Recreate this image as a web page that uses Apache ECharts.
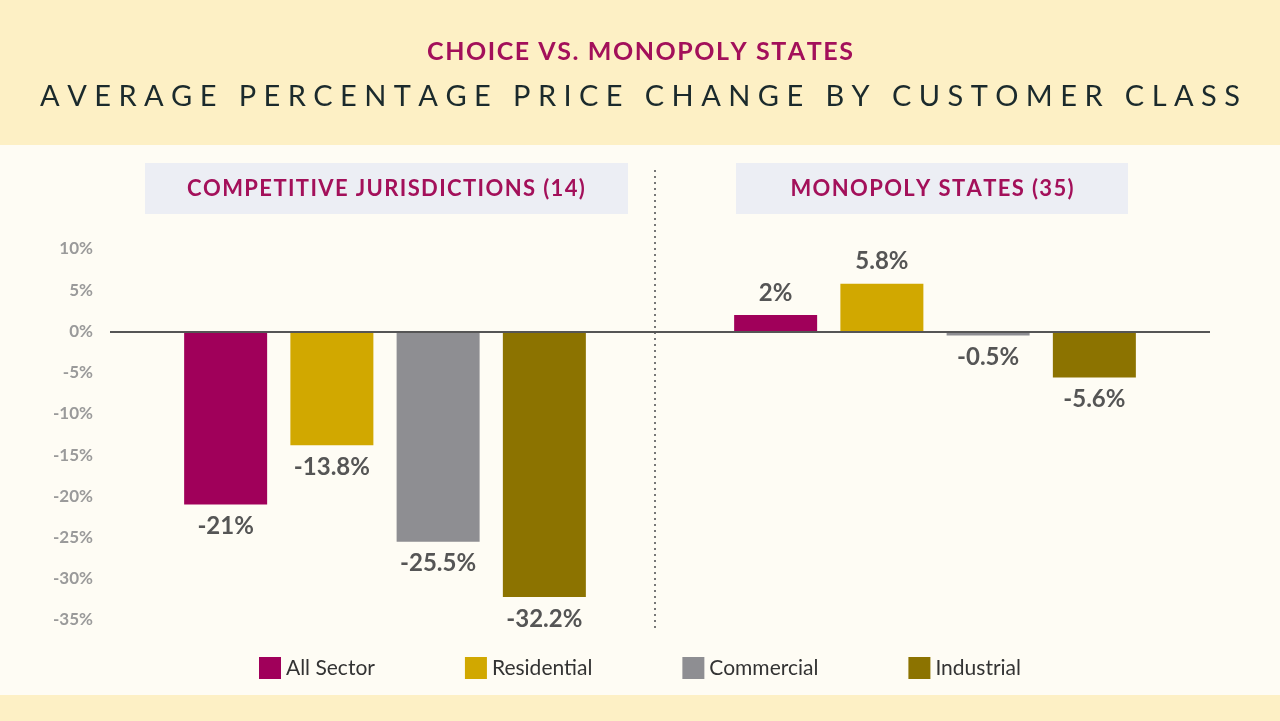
<!DOCTYPE html>
<html>
<head>
<meta charset="utf-8">
<script src="https://cdn.jsdelivr.net/npm/echarts@6/dist/echarts.min.js"></script>
<style>
html,body{margin:0;padding:0;background:#fefcf4;}
#main{width:1280px;height:721px;}
</style>
</head>
<body>
<div id="main"></div>
<script>
// 数据
var groups = ['Competitive', 'Monopoly'];
var allSector = [-21, 2];
var residential = [-13.8, 5.8];
var commercial = [-25.5, -0.5];
var industrial = [-32.2, -5.6];
var yTicks = [10, 5, 0, -5, -10, -15, -20, -25, -30, -35];

var chart = echarts.init(document.getElementById('main'));
var font = 'Lato';

// 字母间距
function spaced(s, sep) {
    return s.split('').join(sep);
}

function mkSeries(name, data, color) {
    return {
        name: name,
        type: 'bar',
        data: data.map(function (v) {
            return {
                value: v,
                label: { position: v >= 0 ? 'top' : 'bottom' }
            };
        }),
        barWidth: 83,
        barGap: '28%',
        itemStyle: { color: color },
        label: {
            show: true,
            formatter: function (p) { return p.value + '%'; },
            fontFamily: font,
            fontWeight: 'bold',
            fontSize: 24,
            color: '#555555',
            distance: 10
        }
    };
}

chart.setOption({
    backgroundColor: '#fefcf4',
    animation: false,
    title: [
        {
            text: spaced('CHOICE VS. MONOPOLY STATES', '\u200a'),
            left: 'center',
            top: 34,
            textStyle: { fontFamily: font, fontWeight: 'bold', fontSize: 25, color: '#a3105a' }
        },
        {
            text: 'A V E R A G E   P E R C E N T A G E   P R I C E   C H A N G E   B Y   C U S T O M E R   C L A S S',
            left: 'center',
            top: 77,
            textStyle: { fontFamily: font, fontWeight: 'normal', fontSize: 29, color: '#1b2a2c' }
        }
    ],
    graphic: [
        { type: 'rect', z: -10, shape: { x: 0, y: 0, width: 1280, height: 145 }, style: { fill: '#fdf0c5' } },
        { type: 'rect', z: -10, shape: { x: 0, y: 695, width: 1280, height: 26 }, style: { fill: '#fdf0c5' } },
        { type: 'rect', z: -5, shape: { x: 145, y: 163, width: 483, height: 51 }, style: { fill: '#eceef4' } },
        { type: 'rect', z: -5, shape: { x: 736, y: 163, width: 392, height: 51 }, style: { fill: '#eceef4' } },
        { type: 'text', x: 386, y: 189, style: { text: spaced('COMPETITIVE JURISDICTIONS (14)', '\u200a'), fill: '#a3105a', font: 'bold 22px Lato', align: 'center', verticalAlign: 'middle' } },
        { type: 'text', x: 932, y: 189, style: { text: spaced('MONOPOLY STATES (35)', '\u200a'), fill: '#a3105a', font: 'bold 22px Lato', align: 'center', verticalAlign: 'middle' } },
        { type: 'line', shape: { x1: 655, y1: 170, x2: 655, y2: 632 }, style: { stroke: '#777777', lineWidth: 2, lineDash: [2, 4] } }
    ],
    legend: {
        bottom: 37,
        left: 'center',
        itemWidth: 22,
        itemHeight: 22,
        itemGap: 90,
        icon: 'rect',
        textStyle: { fontFamily: font, fontSize: 21, color: '#333333' }
    },
    grid: { left: 110, right: 70, top: 249, bottom: 101 },
    xAxis: {
        type: 'category',
        data: groups,
        axisLine: { show: false },
        axisTick: { show: false },
        axisLabel: { show: false }
    },
    yAxis: {
        type: 'value',
        min: -35,
        max: 10,
        interval: 5,
        splitLine: { show: false },
        axisLabel: {
            formatter: function (v) { return yTicks.indexOf(v) >= 0 ? v + '%' : ''; },
            fontFamily: font,
            fontWeight: 'bold',
            fontSize: 17,
            color: '#9a9a9a',
            margin: 17
        }
    },
    series: [
        mkSeries('All Sector', allSector, '#a0005a'),
        mkSeries('Residential', residential, '#d1a800'),
        mkSeries('Commercial', commercial, '#8e8e92'),
        mkSeries('Industrial', industrial, '#8c7300'),
        {
            type: 'line',
            data: [],
            markLine: {
                silent: true,
                symbol: 'none',
                label: { show: false },
                lineStyle: { color: '#555555', width: 2, type: 'solid' },
                data: [{ yAxis: 0 }]
            }
        }
    ]
});
</script>
</body>
</html>
